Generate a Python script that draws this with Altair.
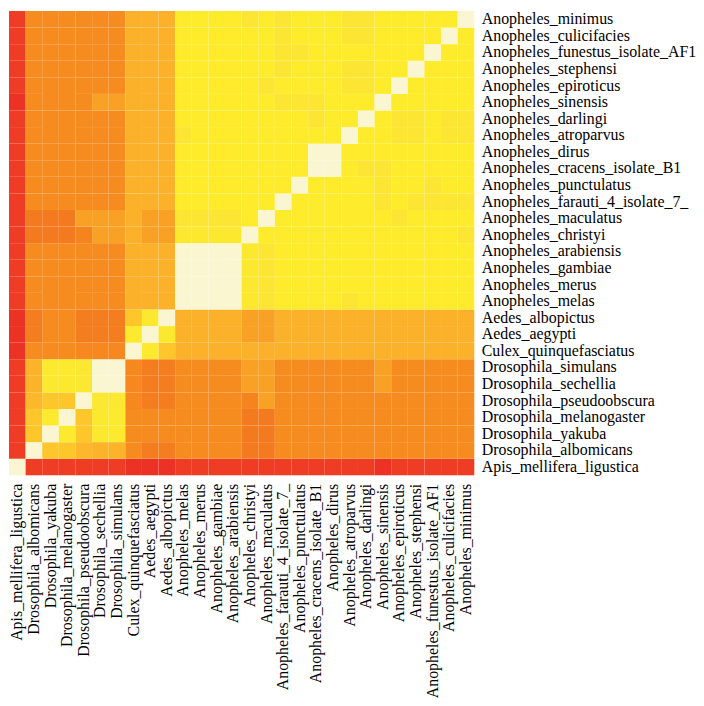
import altair as alt
import pandas as pd

species = [
    "Apis_mellifera_ligustica", "Drosophila_albomicans", "Drosophila_yakuba",
    "Drosophila_melanogaster", "Drosophila_pseudoobscura", "Drosophila_sechellia",
    "Drosophila_simulans", "Culex_quinquefasciatus", "Aedes_aegypti",
    "Aedes_albopictus", "Anopheles_melas", "Anopheles_merus", "Anopheles_gambiae",
    "Anopheles_arabiensis", "Anopheles_christyi", "Anopheles_maculatus",
    "Anopheles_farauti_4_isolate_7_", "Anopheles_punctulatus",
    "Anopheles_cracens_isolate_B1", "Anopheles_dirus", "Anopheles_atroparvus",
    "Anopheles_darlingi", "Anopheles_sinensis", "Anopheles_epiroticus",
    "Anopheles_stephensi", "Anopheles_funestus_isolate_AF1",
    "Anopheles_culicifacies", "Anopheles_minimus",
]

# lower triangle: similarity of each species with the species listed before it
lower = [
    [],
    [5],
    [5, 55],
    [5, 55, 76],
    [5, 48, 55, 55],
    [5, 46, 75, 75, 74],
    [5, 46, 76, 76, 74, 98],
    [3, 30, 30, 30, 29, 29, 29],
    [3, 26, 30, 30, 26, 26, 26, 76],
    [3, 26, 30, 30, 26, 26, 26, 55, 75],
    [5, 30, 30, 30, 30, 30, 30, 45, 45, 45],
    [5, 30, 30, 30, 30, 30, 30, 45, 45, 45, 97],
    [5, 30, 30, 30, 30, 30, 30, 45, 45, 45, 97, 97],
    [5, 30, 30, 30, 30, 30, 30, 45, 45, 45, 97, 97, 97],
    [5, 25, 25, 25, 28, 38, 38, 45, 38, 38, 75, 75, 75, 75],
    [5, 25, 25, 25, 38, 38, 38, 45, 38, 38, 73, 73, 73, 73, 78],
    [5, 30, 30, 30, 30, 30, 30, 45, 45, 45, 78, 78, 78, 78, 78, 78],
    [5, 30, 30, 30, 30, 30, 30, 45, 45, 45, 78, 78, 78, 78, 78, 78, 78],
    [5, 30, 30, 30, 30, 30, 30, 45, 45, 45, 78, 78, 78, 78, 78, 78, 78, 78],
    [5, 30, 30, 30, 30, 30, 30, 45, 45, 45, 78, 78, 78, 78, 78, 78, 78, 78, 97],
    [5, 30, 30, 30, 30, 30, 30, 45, 45, 45, 73, 78, 78, 78, 78, 78, 78, 78, 78, 78],
    [5, 30, 30, 30, 30, 30, 30, 45, 45, 45, 78, 78, 78, 78, 78, 78, 78, 78, 73, 78, 78],
    [3, 30, 30, 30, 30, 38, 38, 45, 45, 45, 78, 78, 78, 78, 78, 78, 73, 73, 73, 78, 78, 78],
    [5, 30, 30, 30, 30, 30, 30, 45, 45, 45, 78, 78, 78, 78, 78, 73, 78, 78, 78, 78, 73, 73, 78],
    [5, 30, 30, 30, 30, 30, 30, 45, 45, 45, 78, 78, 78, 78, 78, 78, 73, 78, 78, 78, 73, 73, 78, 78],
    [5, 30, 30, 30, 30, 30, 30, 45, 45, 45, 78, 78, 78, 78, 78, 78, 73, 73, 78, 78, 78, 78, 78, 78, 78],
    [5, 30, 30, 30, 30, 30, 30, 45, 45, 45, 78, 78, 78, 78, 78, 78, 73, 78, 78, 78, 73, 73, 78, 78, 78, 78],
    [5, 30, 30, 30, 30, 30, 30, 45, 45, 45, 78, 78, 78, 78, 73, 78, 73, 78, 78, 78, 73, 73, 78, 78, 78, 78, 78],
]
diagonal_value = 100

color_domain = [3, 5, 25, 30, 38, 45, 55, 73, 78, 97, 100]
color_range = ["#EC3224", "#EF3D25", "#F47A20", "#F68B1F", "#F8A125", "#FBB12A",
               "#FDC62B", "#FCE633", "#FEEC2C", "#FAF6D0", "#FAF6D2"]

rows = []
n = len(species)
for i in range(n):
    for j in range(n):
        if i == j:
            v = diagonal_value
        elif j < i:
            v = lower[i][j]
        else:
            v = lower[j][i]
        rows.append({"col": species[j], "row": species[i], "value": v})
df = pd.DataFrame(rows)

label_font = "Liberation Serif"

chart = alt.Chart(df).mark_rect(strokeWidth=0).encode(
    x=alt.X("col:N", sort=species, title=None,
            axis=alt.Axis(orient="bottom", labelAngle=-90, ticks=False, domain=False,
                          labelPadding=8, labelFont=label_font, labelFontSize=16,
                          labelColor="#000000", labelLimit=400)),
    y=alt.Y("row:N", sort=species[::-1], title=None,
            axis=alt.Axis(orient="right", ticks=False, domain=False, labelPadding=7,
                          labelFont=label_font, labelFontSize=16,
                          labelColor="#000000", labelLimit=400)),
    color=alt.Color("value:Q", scale=alt.Scale(domain=color_domain, range=color_range),
                    legend=None),
).properties(
    width=468, height=467,
    padding=0,
).configure_view(stroke=None).configure_scale(bandPaddingInner=0)

chart.save("out.html", embed_options={"renderer": "svg", "actions": False})
